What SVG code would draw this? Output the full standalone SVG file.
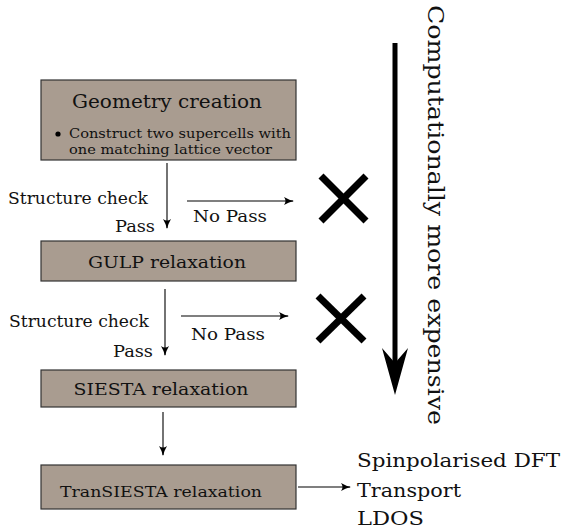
<svg xmlns="http://www.w3.org/2000/svg" width="563" height="529" viewBox="0 0 563 529">
<style>
.box{fill:#a99c90;stroke:#333;stroke-width:1.2}
text{fill:#111}
.ln{stroke:#000;stroke-width:1.1;fill:none}
.x{stroke:#000;stroke-width:7;stroke-linecap:butt}
</style>
<defs>
<marker id="ah" viewBox="0 0 10 10" refX="9" refY="5" markerWidth="10" markerHeight="10" markerUnits="userSpaceOnUse" orient="auto">
<path d="M0,1 Q5,4 10,5 Q5,6 0,9 Q3,5 0,1 Z" fill="#000"/>
</marker>
</defs>
<rect width="563" height="529" fill="#fff"/>
<g font-family="DejaVu Serif, serif">
<g id="geometry">
<rect class="box" x="41" y="80" width="255" height="80"/>
<text x="167" y="108" font-size="19" text-anchor="middle" textLength="190" lengthAdjust="spacingAndGlyphs">Geometry creation</text>
<circle cx="58" cy="134" r="2.6" fill="#000"/>
<text x="69" y="138" font-size="13.5" textLength="222" lengthAdjust="spacingAndGlyphs">Construct two supercells with</text>
<text x="69" y="154" font-size="13.5" textLength="203" lengthAdjust="spacingAndGlyphs">one matching lattice vector</text>
</g>
<g id="gulp">
<rect class="box" x="41" y="241" width="255" height="40"/>
<text x="167" y="268" font-size="17" text-anchor="middle" textLength="158" lengthAdjust="spacingAndGlyphs">GULP relaxation</text>
</g>
<g id="siesta">
<rect class="box" x="41" y="370" width="255" height="37"/>
<text x="161" y="395" font-size="17" text-anchor="middle" textLength="175" lengthAdjust="spacingAndGlyphs">SIESTA relaxation</text>
</g>
<g id="transiesta">
<rect class="box" x="41" y="465" width="255" height="44"/>
<text x="161" y="497" font-size="15" text-anchor="middle" textLength="202" lengthAdjust="spacingAndGlyphs">TranSIESTA relaxation</text>
</g>
<g id="reject1">
<line class="x" x1="321" y1="176" x2="366" y2="221"/>
<line class="x" x1="366" y1="176" x2="321" y2="221"/>
</g>
<g id="reject2">
<line class="x" x1="318" y1="296" x2="364" y2="341"/>
<line class="x" x1="364" y1="296" x2="318" y2="341"/>
</g>
<g id="outputs">
<text x="357" y="467" font-size="19" textLength="203" lengthAdjust="spacingAndGlyphs">Spinpolarised DFT</text>
<text x="357" y="497" font-size="19" textLength="104" lengthAdjust="spacingAndGlyphs">Transport</text>
<text x="357" y="525" font-size="19" textLength="67" lengthAdjust="spacingAndGlyphs">LDOS</text>
</g>
<g id="cost">
<line x1="395" y1="43" x2="395" y2="365" stroke="#000" stroke-width="5"/>
<path d="M395,395 L382,348 L395,363 L408,348 Z" fill="#000"/>
<text transform="translate(428,5) rotate(90)" font-size="22" textLength="420" lengthAdjust="spacingAndGlyphs">Computationally more expensive</text>
</g>
<g id="labels">
<text x="8" y="204" font-size="16" textLength="140" lengthAdjust="spacingAndGlyphs">Structure check</text>
<text x="115" y="232" font-size="16" textLength="40" lengthAdjust="spacingAndGlyphs">Pass</text>
<text x="193" y="222" font-size="16" textLength="74" lengthAdjust="spacingAndGlyphs">No Pass</text>
<text x="9" y="327" font-size="16" textLength="140" lengthAdjust="spacingAndGlyphs">Structure check</text>
<text x="113" y="357" font-size="16" textLength="40" lengthAdjust="spacingAndGlyphs">Pass</text>
<text x="191" y="340" font-size="16" textLength="74" lengthAdjust="spacingAndGlyphs">No Pass</text>
</g>
</g>
<g id="connectors">
<line class="ln" x1="167" y1="163" x2="167" y2="228" marker-end="url(#ah)"/>
<line class="ln" x1="187" y1="201" x2="293" y2="201" marker-end="url(#ah)"/>
<line class="ln" x1="165" y1="289" x2="165" y2="355" marker-end="url(#ah)"/>
<line class="ln" x1="181" y1="316" x2="288" y2="316" marker-end="url(#ah)"/>
<line class="ln" x1="163" y1="412" x2="163" y2="455" marker-end="url(#ah)" stroke="#333"/>
<line class="ln" x1="298" y1="487" x2="350" y2="487" marker-end="url(#ah)"/>
</g>
</svg>
